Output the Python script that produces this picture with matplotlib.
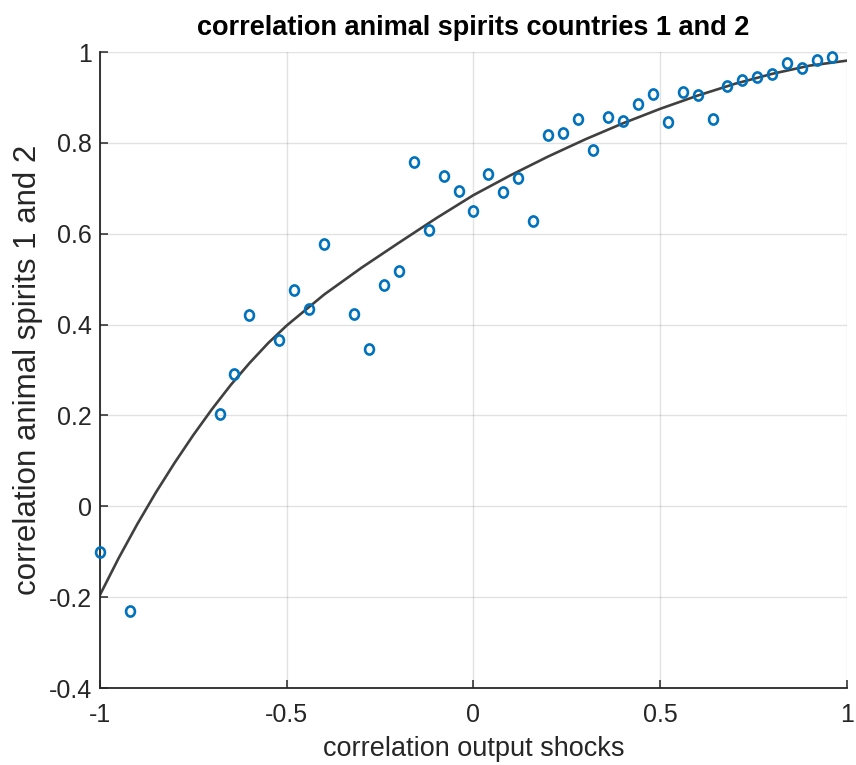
import matplotlib
matplotlib.use('Agg')
import matplotlib.pyplot as plt
from matplotlib.path import Path

# Datos
corr_shocks = [-1.00, -0.92, -0.68, -0.64, -0.60, -0.52, -0.48, -0.44, -0.40,
               -0.32, -0.28, -0.24, -0.20, -0.16, -0.12, -0.08, -0.04, 0.00,
               0.04, 0.08, 0.12, 0.16, 0.20, 0.24, 0.28, 0.32, 0.36, 0.40,
               0.44, 0.48, 0.52, 0.56, 0.60, 0.64, 0.68, 0.72, 0.76, 0.80,
               0.84, 0.88, 0.92, 0.96]
corr_spirits = [-0.10, -0.23, 0.204, 0.291, 0.420, 0.366, 0.475, 0.434, 0.578,
                0.424, 0.347, 0.487, 0.518, 0.758, 0.608, 0.728, 0.694, 0.651,
                0.732, 0.691, 0.722, 0.628, 0.818, 0.821, 0.852, 0.785, 0.858, 0.848,
                0.885, 0.908, 0.845, 0.912, 0.905, 0.852, 0.925, 0.938, 0.945, 0.952,
                0.976, 0.965, 0.982, 0.989]

# Curva ajustada
fit_x = [-1.0, -0.95, -0.9, -0.85, -0.8, -0.75, -0.7, -0.65, -0.6, -0.55, -0.5,
         -0.4, -0.3, -0.2, -0.1, 0.0, 0.1, 0.2, 0.3, 0.4, 0.5, 0.6, 0.7, 0.8, 0.9, 1.0]
fit_y = [-0.195, -0.114, -0.039, 0.031, 0.096, 0.157, 0.214, 0.267, 0.315, 0.359, 0.398,
         0.466, 0.525, 0.580, 0.634, 0.685, 0.729, 0.770, 0.808, 0.843, 0.875, 0.904,
         0.930, 0.952, 0.970, 0.981]

x_ticks = [-1, -0.5, 0, 0.5, 1]
x_labels = ['-1', '-0.5', '0', '0.5', '1']
y_ticks = [-0.4, -0.2, 0, 0.2, 0.4, 0.6, 0.8, 1]
y_labels = ['-0.4', '-0.2', '0', '0.2', '0.4', '0.6', '0.8', '1']

plt.rcParams['font.family'] = ['Liberation Sans', 'DejaVu Sans']
txt_col = '#262626'

fig = plt.figure(figsize=(8.56, 7.65), dpi=100)
ax = fig.add_axes([100 / 856, 77 / 765, 747 / 856, 636 / 765])

# marcador circular algo alargado en vertical
circ = Path.unit_circle()
ell = Path(circ.vertices * [0.87, 1.0], circ.codes)

ax.plot(fit_x, fit_y, color='#404040', linewidth=1.9, zorder=2)
ax.plot(corr_shocks, corr_spirits, linestyle='none', marker=ell, markersize=7.3,
        markerfacecolor='none', markeredgecolor='#0072BD', markeredgewidth=1.9,
        zorder=3, clip_on=False)

ax.set_xlim(-1, 1)
ax.set_ylim(-0.4, 1)
ax.set_xticks(x_ticks)
ax.set_xticklabels(x_labels)
ax.set_yticks(y_ticks)
ax.set_yticklabels(y_labels)

ax.grid(True, color=txt_col, alpha=0.13, linewidth=1.0)
ax.set_axisbelow(True)
for s in ['top', 'right']:
    ax.spines[s].set_visible(False)
for s in ['left', 'bottom']:
    ax.spines[s].set_color(txt_col)
    ax.spines[s].set_linewidth(1.3)
ax.tick_params(direction='in', length=6, width=1.1, color=txt_col,
               labelcolor=txt_col, labelsize=18)
ax.tick_params(axis='x', pad=11)
ax.tick_params(axis='y', pad=6)

ax.set_xlabel('correlation output shocks', fontsize=19.5, color=txt_col, labelpad=6)
ax.set_ylabel('correlation animal spirits 1 and 2', fontsize=22.5, color=txt_col, labelpad=4)
ax.set_title('correlation animal spirits countries 1 and 2', fontsize=19.5,
             fontweight='bold', pad=12)

fig.savefig('out.png', dpi=100)
